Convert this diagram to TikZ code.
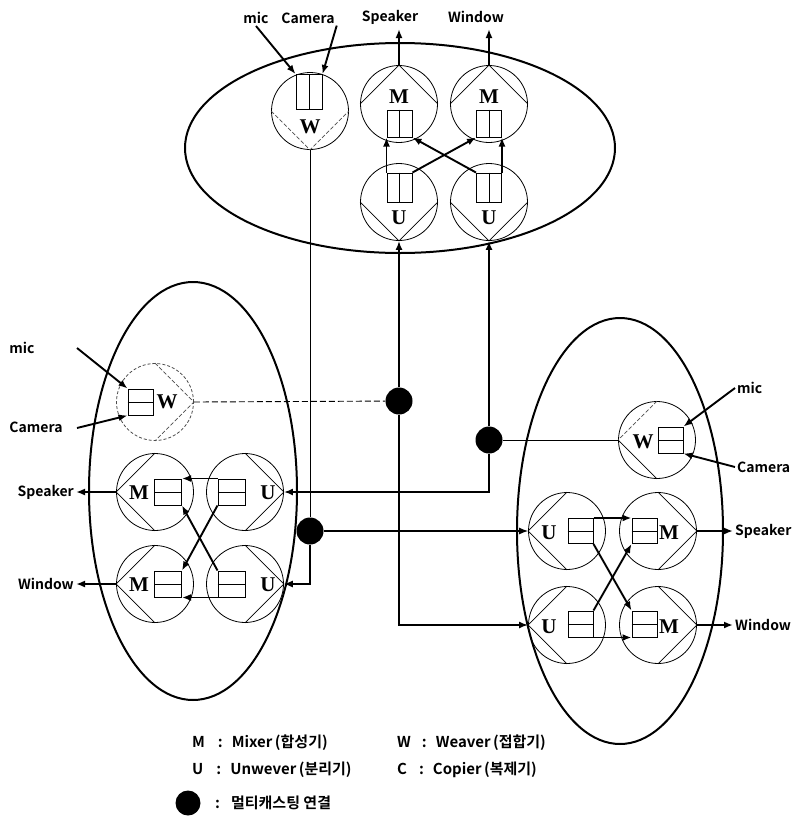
\documentclass[tikz,border=0pt]{standalone}
\usepackage{fontspec}
\setmainfont{Liberation Serif}
\newfontfamily\krfont{Noto Sans CJK KR}[BoldFont={Noto Sans CJK KR Bold}]
\usetikzlibrary{arrows.meta}

\tikzset{
  unit/.style={circle,draw,line width=0.8pt,minimum size=77pt,inner sep=0pt},
  port/.style={draw,line width=1pt,rectangle,minimum width=26pt,minimum height=26pt,inner sep=0pt},
  mcast/.style={circle,fill=black,minimum size=27pt,inner sep=0pt},
  flow/.style={line width=1.9pt,-{Latex[length=9pt,width=7pt]}},
  feed/.style={line width=1.2pt,-{Latex[length=9pt,width=7pt]}},
  half/.style={line width=0.7pt},
  faint/.style={line width=0.7pt,dash pattern=on 4pt off 2pt,black!70},
  lbl/.style={font=\krfont\bfseries\fontsize{14}{14}\selectfont,inner sep=2pt},
  key/.style={font=\krfont\bfseries\fontsize{15}{15}\selectfont,inner sep=0pt,anchor=west},
  letter/.style={font=\bfseries\fontsize{21}{21}\selectfont,inner sep=0pt},
}

\begin{document}
\begin{tikzpicture}[x=1pt,y=-1pt]
\useasboundingbox (0,0) rectangle (799,823);

   \draw[line width=2pt] (400,148) ellipse [x radius=215, y radius=105];
   \draw[line width=2pt] (193,491) ellipse [x radius=104, y radius=209];
   \draw[line width=2pt] (620,531) ellipse [x radius=103, y radius=213];

   % top group
   \node[unit] at (310,111) (Wt) {};
   \node[unit] at (399,104) (Mt1) {};
   \node[unit] at (489,104) (Mt2) {};
   \node[unit] at (399,202) (Ut1) {};
   \node[unit] at (489,202) (Ut2) {};
    \draw[faint] (Wt.west) -- (Wt.south) -- (Wt.east);
    \draw[half] (Mt1.west) -- (Mt1.north) -- (Mt1.east);
    \draw[half] (Mt2.west) -- (Mt2.north) -- (Mt2.east);
    \draw[half] (Ut1.west) -- (Ut1.south) -- (Ut1.east);
    \draw[half] (Ut2.west) -- (Ut2.south) -- (Ut2.east);
   \node[letter] at (310,127) (lWt) {W};
   \node[letter] at (399,97) (lMt1) {M};
   \node[letter] at (489,97) (lMt2) {M};
   \node[letter] at (399,218) (lUt1) {U};
   \node[letter] at (489,218) (lUt2) {U};
   \node[port,minimum height=35pt] at (309,92) (bWt) {};
   \node[port,minimum width=25pt,minimum height=27pt] at (399.5,123.5) (bMt1) {};
   \node[port,minimum width=25pt,minimum height=27pt] at (489,123.5) (bMt2) {};
   \node[port,minimum width=25pt,minimum height=29pt] at (399.5,187.5) (bUt1) {};
   \node[port,minimum width=25pt,minimum height=29pt] at (489,187.5) (bUt2) {};
    \draw[line width=1pt] (bWt.north) -- (bWt.south);
    \draw[line width=1pt] (bMt1.north) -- (bMt1.south);
    \draw[line width=1pt] (bMt2.north) -- (bMt2.south);
    \draw[line width=1pt] (bUt1.north) -- (bUt1.south);
    \draw[line width=1pt] (bUt2.north) -- (bUt2.south);
   \draw[flow] (bUt1.north west) -- (bMt1.south west);
   \draw[flow] (bUt1.north east) -- (bMt2.south west);
   \draw[flow] (bUt2.north west) -- (bMt1.south east);
   \draw[flow] (bUt2.north east) -- (bMt2.south east);

   \node[lbl] at (256,18) (micT) {mic};
   \node[lbl] at (308,18) (camT) {Camera};
   \node[lbl] at (390,17) (spkT) {Speaker};
   \node[lbl] at (476,17) (winT) {Window};
   \coordinate (oSpkT) at (399,29);
   \coordinate (oWinT) at (489,29);
   \draw[flow] (micT.south) -- (bWt.north west);
   \draw[flow] (camT.south east) -- (bWt.north east);
   \draw[flow] (Mt1.north) -- (oSpkT);
   \draw[flow] (Mt2.north) -- (oWinT);

   % left group
   \node[unit,draw=black!70,dash pattern=on 3pt off 2pt] at (155,402) (Wl) {};
   \node[unit] at (155,492) (Ml1) {};
   \node[unit] at (245,492) (Ul1) {};
   \node[unit] at (155,584) (Ml2) {};
   \node[unit] at (245,584) (Ul2) {};
    \draw[faint] (Wl.north) -- (Wl.east) -- (Wl.south);
    \draw[half] (Ml1.north) -- (Ml1.west) -- (Ml1.south);
    \draw[half] (Ml2.north) -- (Ml2.west) -- (Ml2.south);
    \draw[half] (Ul1.north) -- (Ul1.east) -- (Ul1.south);
    \draw[half] (Ul2.north) -- (Ul2.east) -- (Ul2.south);
   \node[letter] at (167,402) (lWl) {W};
   \node[letter] at (139,493) (lMl1) {M};
   \node[letter] at (268,493) (lUl1) {U};
   \node[letter] at (139,585) (lMl2) {M};
   \node[letter] at (268,585) (lUl2) {U};
   \node[port,minimum width=25pt] at (140.5,402) (bWl) {};
   \node[port,minimum width=27pt] at (168,492) (bMl1) {};
   \node[port,minimum width=27pt] at (231.5,492) (bUl1) {};
   \node[port,minimum width=27pt] at (168,584) (bMl2) {};
   \node[port,minimum width=27pt] at (231.5,584) (bUl2) {};
    \draw[line width=1pt] (bWl.west) -- (bWl.east);
    \draw[line width=1pt] (bMl1.west) -- (bMl1.east);
    \draw[line width=1pt] (bUl1.west) -- (bUl1.east);
    \draw[line width=1pt] (bMl2.west) -- (bMl2.east);
    \draw[line width=1pt] (bUl2.west) -- (bUl2.east);
   \draw[flow] (bUl1.north west) -- (bMl1.north east);
   \draw[flow] (bUl1.south west) -- (bMl2.north east);
   \draw[flow] (bUl2.north west) -- (bMl1.south east);
   \draw[flow] (bUl2.south west) -- (bMl2.south east);

   \node[lbl] at (22,348) (micL) {mic};
   \node[lbl] at (36,427) (camL) {Camera};
   \node[lbl,anchor=east] at (76,492) (spkL) {Speaker};
   \node[lbl,anchor=east] at (76,584) (winL) {Window};
   \coordinate (iMicL) at (77,348);
   \coordinate (iCamL) at (77,428);
   \draw[flow] (iMicL) -- (bWl.north west);
   \draw[flow] (iCamL) -- (bWl.south west);
   \draw[flow] (Ml1.west) -- (spkL.east);
   \draw[flow] (Ml2.west) -- (winL.east);

   % right group
   \node[unit] at (657,440) (Wr) {};
   \node[unit] at (567,531) (Ur1) {};
   \node[unit] at (658,531) (Mr1) {};
   \node[unit] at (567,625) (Ur2) {};
   \node[unit] at (658,625) (Mr2) {};
    \draw[faint] (Wr.north) -- (Wr.west);
    \draw[half] (Wr.west) -- (Wr.south);
    \draw[half] (Ur1.north) -- (Ur1.west) -- (Ur1.south);
    \draw[half] (Ur2.north) -- (Ur2.west) -- (Ur2.south);
    \draw[half] (Mr1.north) -- (Mr1.east) -- (Mr1.south);
    \draw[half] (Mr2.north) -- (Mr2.east) -- (Mr2.south);
   \node[letter] at (643,442) (lWr) {W};
   \node[letter] at (549,533) (lUr1) {U};
   \node[letter] at (669,533) (lMr1) {M};
   \node[letter] at (549,627) (lUr2) {U};
   \node[letter] at (669,627) (lMr2) {M};
   \node[port,minimum width=25pt] at (670.5,440) (bWr) {};
   \node[port,minimum width=25pt,minimum height=25pt] at (580.5,531) (bUr1) {};
   \node[port,minimum width=25pt,minimum height=25pt] at (644.5,531) (bMr1) {};
   \node[port,minimum width=25pt,minimum height=26pt] at (580.5,624) (bUr2) {};
   \node[port,minimum width=25pt,minimum height=26pt] at (644.5,624) (bMr2) {};
    \draw[line width=1pt] (bWr.west) -- (bWr.east);
    \draw[line width=1pt] (bUr1.west) -- (bUr1.east);
    \draw[line width=1pt] (bMr1.west) -- (bMr1.east);
    \draw[line width=1pt] (bUr2.west) -- (bUr2.east);
    \draw[line width=1pt] (bMr2.west) -- (bMr2.east);
   \draw[flow] (bUr1.north east) -- (bMr1.north west);
   \draw[flow] (bUr1.south east) -- (bMr2.north west);
   \draw[flow] (bUr2.north east) -- (bMr1.south west);
   \draw[flow] (bUr2.south east) -- (bMr2.south west);

   \node[lbl,anchor=west] at (735,388) (micR) {mic};
   \node[lbl,anchor=west] at (735,467) (camR) {Camera};
   \node[lbl,anchor=west] at (733,531) (spkR) {Speaker};
   \node[lbl,anchor=west] at (733,625) (winR) {Window};
   \draw[flow] (micR.west) -- (bWr.north east);
   \draw[flow] (camR.west) -- (bWr.south east);
   \draw[flow] (Mr1.east) -- (spkR.west);
   \draw[flow] (Mr2.east) -- (winR.west);

   % multicast links
   \node[mcast] at (399,401) (D1) {};
   \node[mcast] at (489,440) (D2) {};
   \node[mcast] at (310,531) (D3) {};
   \draw[line width=0.9pt,dash pattern=on 6pt off 3pt] (Wl.east) -- (D1);
   \draw[flow] (D1) -- (Ut1.south);
   \draw[flow] (D1) |- (Ur2.west);
   \draw[line width=0.9pt] (Wr.west) -- (D2);
   \draw[flow] (D2) -- (Ut2.south);
   \draw[flow] (D2) |- (Ul1.east);
   \draw[line width=0.9pt] (Wt.south) -- (D3);
   \draw[feed] (D3) |- (Ul2.east);
   \draw[feed] (D3) -- (Ur1.west);

   % key
   \node[key] at (192,743) (keyM) {M\hspace{13pt}:\hspace{9pt}Mixer\,(합성기)};
   \node[key] at (397,743) (keyW) {W\hspace{11pt}:\hspace{9pt}Weaver\,(접합기)};
   \node[key] at (192,770) (keyU) {U\hspace{13pt}:\hspace{9pt}Unwever\,(분리기)};
   \node[key] at (397,770) (keyC) {C\hspace{12pt}:\hspace{9pt}Copier\,(복제기)};
   \node[mcast,minimum size=25pt] at (188,803) (keyD) {};
   \node[key] at (215,803) (keyDt) {:\hspace{11pt}멀티캐스팅 연결};

\end{tikzpicture}
\end{document}
